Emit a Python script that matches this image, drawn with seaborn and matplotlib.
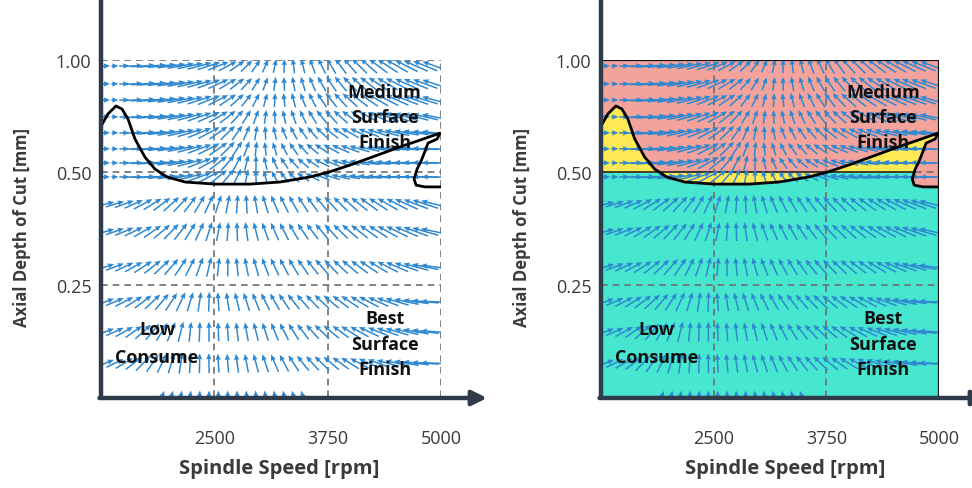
import numpy as np
import matplotlib
matplotlib.use("Agg")
import matplotlib.pyplot as plt
from matplotlib.patches import FancyArrowPatch
from matplotlib.lines import Line2D
from matplotlib.ticker import NullLocator
import seaborn as sns

# ---------------------------------------------------------------- data
speed_ticks = [2500, 3750, 5000]
depth_ticks = [0.25, 0.50, 1.00]
depth_tick_labels = ["0.25", "0.50", "1.00"]

# stability boundary (spindle speed [rpm], axial depth [mm])
boundary_speed = [1250, 1327, 1415, 1482, 1548, 1625, 1735, 1846, 1978, 2177,
                  2508, 2894, 3225, 3556, 3765, 3997, 4273, 4548, 4769, 4990]
boundary_depth = [0.665, 0.717, 0.753, 0.739, 0.695, 0.614, 0.549, 0.510, 0.486, 0.471,
                  0.465, 0.465, 0.471, 0.486, 0.501, 0.523, 0.553, 0.585, 0.610, 0.637]
# unstable pocket at the high-speed end
pocket_speed = [4990, 4956, 4857, 4824, 4780, 4736, 4703, 4725, 4824, 5000]
pocket_depth = [0.637, 0.614, 0.599, 0.570, 0.536, 0.510, 0.480, 0.462, 0.457, 0.457]

# gradient field sampled on a regular speed grid
field_speed = np.linspace(1300, 4930, 36)
upper_rows = [0.964, 0.863, 0.781, 0.704, 0.638, 0.578, 0.530, 0.486]
lower_rows = [0.411, 0.347, 0.279, 0.225, 0.187, 0.154]
base_row = 0.125

# arrow directions in degrees, one list per row
upper_angles = [
    [2, 2, 3, 3, 4, 5, 6, 8, 10, 12, 15, 18, 22, 28, 35, 45, 55, 66, 78, 88,
     97, 104, 110, 116, 121, 126, 131, 135, 139, 143, 147, 150, 153, 156, 158, 160],
    [1, 2, 2, 3, 4, 5, 6, 8, 10, 13, 16, 20, 25, 31, 38, 48, 58, 70, 82, 92,
     100, 107, 113, 119, 124, 129, 134, 138, 142, 146, 150, 153, 156, 158, 160, 162],
    [1, 1, 2, 3, 4, 5, 7, 9, 11, 14, 18, 22, 27, 34, 42, 52, 63, 75, 87, 96,
     104, 111, 117, 123, 128, 133, 138, 142, 146, 150, 153, 156, 159, 161, 163, 165],
    [0, 1, 2, 3, 4, 5, 7, 9, 12, 15, 19, 24, 30, 38, 47, 58, 70, 82, 93, 102,
     109, 116, 122, 128, 133, 138, 143, 147, 151, 155, 158, 161, 163, 165, 167, 169],
    [0, 1, 2, 3, 4, 5, 7, 10, 13, 17, 22, 28, 35, 44, 55, 67, 80, 92, 103, 112,
     118, 125, 131, 137, 142, 147, 151, 155, 159, 162, 165, 168, 170, 172, 173, 174],
    [0, 0, 1, 2, 3, 4, 6, 8, 11, 15, 20, 27, 35, 45, 57, 70, 84, 96, 107, 117,
     125, 133, 140, 146, 151, 156, 160, 164, 167, 170, 172, 174, 175, 176, 177, 178],
    [0, 0, 1, 2, 3, 4, 6, 8, 11, 15, 21, 29, 38, 49, 62, 76, 90, 103, 114, 124,
     132, 140, 147, 153, 158, 162, 166, 169, 171, 173, 175, 176, 177, 178, 178, 179],
    [0, 0, 1, 1, 2, 3, 5, 7, 10, 14, 20, 28, 38, 50, 64, 78, 92, 106, 118, 128,
     137, 145, 152, 158, 163, 167, 170, 172, 174, 176, 177, 178, 178, 179, 179, 179],
]
lower_angles = [
    [14, 17, 20, 24, 28, 32, 37, 42, 47, 53, 59, 65, 72, 79, 86, 93, 100, 107, 113, 116,
     119, 123, 126, 129, 132, 135, 138, 141, 144, 147, 150, 153, 156, 159, 162, 166],
    [16, 19, 22, 26, 30, 35, 40, 46, 52, 58, 65, 72, 79, 86, 92, 98, 104, 110, 114, 117,
     120, 124, 127, 130, 133, 136, 139, 142, 145, 148, 151, 154, 157, 160, 164, 168],
    [18, 21, 25, 29, 33, 38, 43, 49, 56, 63, 70, 77, 84, 90, 96, 101, 106, 111, 115, 118,
     121, 125, 128, 131, 134, 137, 140, 143, 146, 149, 153, 157, 161, 165, 169, 173],
    [20, 23, 27, 32, 37, 43, 50, 57, 65, 73, 81, 88, 94, 99, 104, 108, 112, 116, 120, 124,
     128, 131, 134, 137, 140, 143, 146, 149, 152, 156, 160, 164, 168, 172, 175, 178],
    [20, 24, 29, 35, 42, 50, 58, 67, 76, 84, 88, 90, 92, 94, 97, 100, 104, 108, 112, 117,
     122, 127, 132, 136, 140, 144, 148, 151, 155, 158, 161, 164, 167, 170, 173, 176],
    [22, 26, 31, 38, 46, 55, 64, 73, 81, 86, 89, 91, 93, 95, 98, 101, 105, 109, 113, 118,
     123, 128, 132, 136, 140, 144, 148, 152, 156, 160, 164, 167, 170, 173, 176, 178],
]
base_speed = field_speed[6:22]
base_angles = [70, 75, 80, 84, 87, 89, 90, 91, 92, 93, 95, 97, 99, 101, 104, 107]

# arrow magnitudes per speed column
upper_lengths = [9, 7, 10, 18, 24, 27, 28, 28, 27, 26, 25, 24, 22, 20, 18, 16, 15, 14,
                 14, 14, 15, 15, 16, 17, 18, 19, 20, 21, 22, 23, 24, 25, 25, 26, 26, 26]
lower_lengths = [18, 19, 20, 20, 21, 21, 21, 21, 21, 20, 20, 20, 19, 19, 19, 19, 19, 19,
                 19, 19, 19, 19, 19, 20, 20, 20, 21, 21, 22, 22, 23, 24, 25, 26, 27, 28]
base_length = 13

# ---------------------------------------------------------------- style
sns.set_theme(style="white")
plt.rcParams["font.family"] = ["Open Sans", "DejaVu Sans"]

ARROW = "#2f88cf"
GRID = "#6e6e6e"
AXIS = "#2f3b4b"
TEXT = "#3a3a3a"
SALMON = "#f3a39b"
YELLOW = "#ffe955"
TURQ = "#46e6cf"

W, H = 972, 489
fig = plt.figure(figsize=(W / 100, H / 100), dpi=100)
fig.patch.set_facecolor("white")


def px_box(x0, x1, y_top, y_bot):
    return [x0 / W, 1 - y_bot / H, (x1 - x0) / W, (y_bot - y_top) / H]


def draw_field(ax):
    qkw = dict(angles="uv", scale_units="dots", scale=1, pivot="middle",
               units="dots", width=1.5, headwidth=3.6, headlength=4.2,
               headaxislength=3.8, minlength=0, color=ARROW, zorder=3)
    for rows, angles, lengths in ((upper_rows, upper_angles, upper_lengths),
                                  (lower_rows, lower_angles, lower_lengths)):
        X, Y = np.meshgrid(field_speed, rows)
        A = np.radians(np.array(angles, dtype=float))
        L = np.array(lengths, dtype=float)[None, :]
        ax.quiver(X, Y, L * np.cos(A), L * np.sin(A), **qkw)
    A = np.radians(np.array(base_angles, dtype=float))
    ax.quiver(base_speed, np.full(len(base_speed), base_row),
              base_length * np.cos(A), base_length * np.sin(A), **qkw)


def draw_boundary(ax):
    xs = boundary_speed + pocket_speed[1:]
    ys = boundary_depth + pocket_depth[1:]
    sns.lineplot(x=xs, y=ys, sort=False, estimator=None, color="black",
                 lw=2.0, ax=ax, zorder=5)


def setup_axes(ax, x_left_px, label_cx):
    ax.set_yscale("log", base=2)
    ax.set_xlim(1250, 5000)
    ax.set_ylim(0.125, 1.0)
    ax.set_xticks(speed_ticks)
    ax.set_xticklabels([str(v) for v in speed_ticks])
    ax.set_yticks(depth_ticks)
    ax.set_yticklabels(depth_tick_labels)
    ax.yaxis.set_minor_locator(NullLocator())
    ax.tick_params(axis="x", length=0, pad=23, labelsize=13, colors=TEXT)
    ax.tick_params(axis="y", length=0, pad=7, labelsize=13, colors=TEXT)
    for s in ax.spines.values():
        s.set_visible(False)
    ax.set_facecolor("none")
    ax.grid(False)
    # axis lines with arrow on speed axis
    yb = 1 - 399 / H
    fig.add_artist(Line2D([x_left_px / W, x_left_px / W], [yb, 1.0],
                          color=AXIS, lw=3.2, solid_capstyle="butt"))
    fig.add_artist(FancyArrowPatch((x_left_px / W - 1.5 / W, yb),
                                   ((x_left_px + 386) / W, yb),
                                   transform=fig.transFigure,
                                   arrowstyle="-|>", mutation_scale=22,
                                   color=AXIS, lw=3.2, shrinkA=0, shrinkB=0))
    fig.text(label_cx / W, 1 - 469 / H, "Spindle Speed [rpm]", ha="center",
             va="center", fontsize=14.5, fontweight="bold", color=TEXT)
    fig.text((x_left_px - 79) / W, 1 - 228 / H, "Axial Depth of Cut [mm]",
             ha="center", va="center", rotation=90, fontsize=12,
             fontweight="bold", color=TEXT)


def region_labels(ax):
    kw = dict(ha="center", va="center", fontsize=13, fontweight="bold",
              color="#111111", zorder=6)
    for txt, y in (("Medium", 0.821), ("Surface", 0.703), ("Finish", 0.603)):
        ax.text(4377, y, txt, **kw)
    for txt, y in (("Low", 0.190), ("Consume", 0.160)):
        ax.text(1868, y, txt, **kw)
    for txt, y in (("Best", 0.204), ("Surface", 0.173), ("Finish", 0.149)):
        ax.text(4377, y, txt, **kw)


dash = (0, (4, 3))

# ---------------------------------------------------------------- left panel
axL = fig.add_axes(px_box(101, 441, 61, 398))
for v in speed_ticks:
    axL.axvline(v, color=GRID, lw=1.2, ls=dash, zorder=2)
for v in depth_ticks:
    axL.axhline(v, color=GRID, lw=1.2, ls=dash, zorder=2)
draw_field(axL)
draw_boundary(axL)
region_labels(axL)
setup_axes(axL, 101, 279)

# ---------------------------------------------------------------- right panel
axR = fig.add_axes(px_box(601, 939, 61, 398))
axR.axhspan(0.5, 1.0, color=SALMON, lw=0, zorder=0)
axR.axhspan(0.125, 0.5, color=TURQ, lw=0, zorder=0)
axR.fill_between(boundary_speed, boundary_depth, 0.5, color=YELLOW, lw=0, zorder=1)
axR.fill(pocket_speed + [5000], pocket_depth + [0.637], color=SALMON, lw=0, zorder=1)
axR.hlines(0.5, 1250, 4736, color="#222222", lw=1.2, zorder=2)
axR.hlines(0.5, 4736, 5000, color=GRID, lw=1.2, ls=dash, zorder=2)
for v in speed_ticks[:2]:
    axR.axvline(v, color=GRID, lw=1.2, ls=dash, zorder=2)
axR.axhline(0.25, color=GRID, lw=1.2, ls=dash, zorder=2)
axR.axhline(1.0, color="#111111", lw=1.6, zorder=4)
axR.axvline(5000, color="#111111", lw=1.6, zorder=4)
draw_field(axR)
draw_boundary(axR)
region_labels(axR)
setup_axes(axR, 601, 785)

fig.savefig("out.png", dpi=100, facecolor="white")
